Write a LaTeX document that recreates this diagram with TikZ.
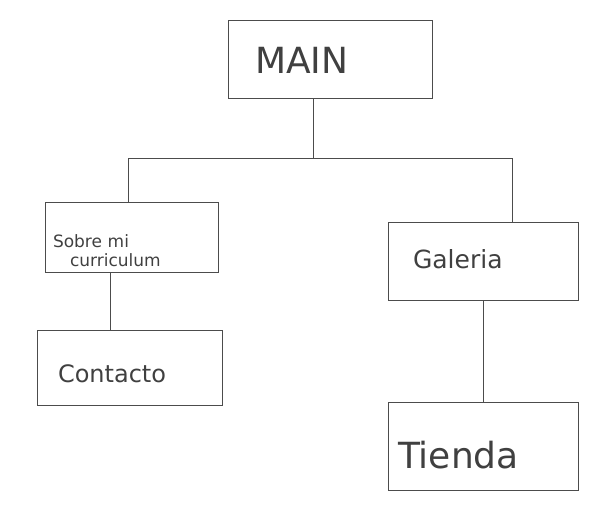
\documentclass[tikz,border=0pt]{standalone}
\usepackage{fontspec}
\setmainfont{DejaVu Sans}
\begin{document}
\begin{tikzpicture}[x=1pt,y=-1pt,
  box/.style={draw=black!70, line width=0.7pt, inner ysep=0pt, align=left, text=black!75},
  wire/.style={draw=black!70, line width=0.7pt}]
\useasboundingbox (0,0) rectangle (611,522);
\node[box, minimum width=204, minimum height=78, inner xsep=27pt, text width=150, text height=28pt, text depth=0pt, font=\fontsize{36}{38}\selectfont] (main) at (330,59) {MAIN};
\node[box, minimum width=173, minimum height=70, inner xsep=8pt, text width=157, text height=21pt, text depth=0pt, font=\fontsize{17}{19}\selectfont] (sobre) at (131.5,237) {Sobre mi\\\hspace*{17pt}curriculum};
\node[box, minimum width=185, minimum height=75, inner xsep=21pt, text width=143, text height=29pt, text depth=0pt, font=\fontsize{24}{26}\selectfont] (contacto) at (129.5,367.5) {Contacto};
\node[box, minimum width=190, minimum height=78, inner xsep=25pt, text width=140, text height=14pt, text depth=0pt, font=\fontsize{25}{27}\selectfont] (galeria) at (483,261) {Galeria};
\node[box, minimum width=190, minimum height=88, inner xsep=10pt, text width=170, text height=44pt, text depth=0pt, font=\fontsize{36}{38}\selectfont] (tienda) at (483,446) {Tienda};
\coordinate (jm) at (313,158);
\coordinate (jl) at (128,158);
\coordinate (jr) at (512,158);
\coordinate (cl) at (110,300);
\draw[wire] (main.south -| jm) -- (jm);
\draw[wire] (jl) -- (jr);
\draw[wire] (jl) -- (sobre.north -| jl);
\draw[wire] (jr) -- (galeria.north -| jr);
\draw[wire] (sobre.south -| cl) -- (contacto.north -| cl);
\draw[wire] (galeria.south) -- (tienda.north);
\end{tikzpicture}
\end{document}
